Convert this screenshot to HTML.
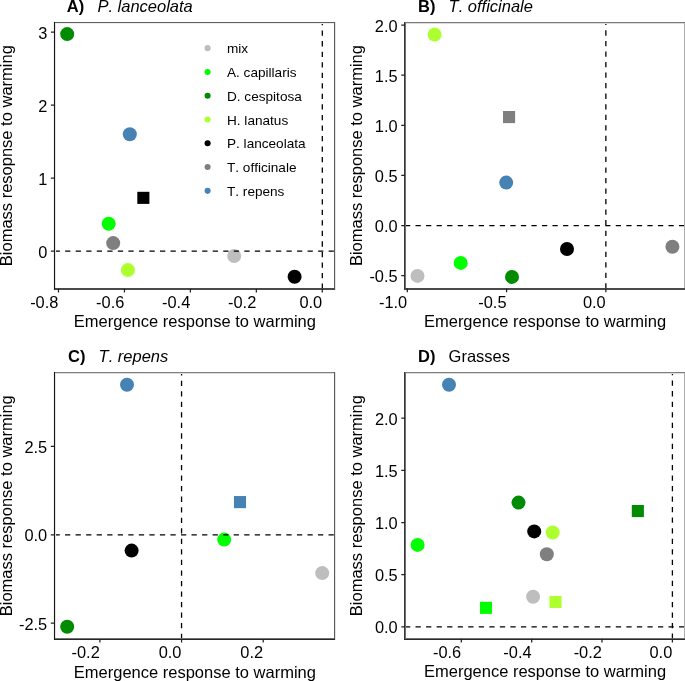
<!DOCTYPE html>
<html><head><meta charset="utf-8"><style>
html,body{margin:0;padding:0;background:#fff;}
svg{display:block;will-change:transform;}
text{font-family:"Liberation Sans",sans-serif;fill:#000;font-kerning:none;font-variant-ligatures:none;}
.tk{font-size:16.4px;}
.ax{font-size:16.5px;}
.tb{font-size:16.5px;font-weight:bold;}
.ti{font-size:16.5px;font-style:italic;}
.tn{font-size:16.5px;}
.lg{font-size:13.6px;}
</style></head><body>
<svg width="685" height="681" viewBox="0 0 685 681">
<rect width="685" height="681" fill="#fff"/>
<circle cx="67.2" cy="34.1" r="7.0" fill="#008B00"/>
<circle cx="129.8" cy="134.2" r="7.0" fill="#4682B4"/>
<rect x="137.3" y="191.8" width="12.1" height="12.1" fill="#000000"/>
<circle cx="108.7" cy="223.7" r="7.0" fill="#00FF00"/>
<circle cx="113.2" cy="243.1" r="7.0" fill="#7F7F7F"/>
<circle cx="127.9" cy="270.1" r="7.0" fill="#ADFF2F"/>
<circle cx="234.2" cy="256" r="7.0" fill="#BEBEBE"/>
<circle cx="294.6" cy="276.8" r="7.0" fill="#000000"/>
<path d="M54.6 251.05H334.6M322.3 288.8V22.6" stroke="#000000" stroke-width="1.3" stroke-dasharray="5.27 5.27" fill="none"/>
<g shape-rendering="crispEdges"><rect x="53" y="22" width="1" height="268" fill="#f2f2f2"/><rect x="54" y="23" width="281" height="1" fill="#ececec"/><rect x="335" y="22" width="1" height="268" fill="#e4e4e4"/><rect x="55" y="22" width="1" height="268" fill="#e2e2e2"/><rect x="54" y="22" width="281" height="1" fill="#606060"/><rect x="334" y="22" width="1" height="268" fill="#5a5a5a"/><rect x="54" y="288" width="281" height="1" fill="#4a4a4a"/><rect x="54" y="289" width="281" height="1" fill="#4a4a4a"/><rect x="54" y="22" width="1" height="268" fill="#151515"/></g>
<path d="M50.9 32.2H54.6M50.9 105.15H54.6M50.9 178.1H54.6M50.9 251.05H54.6M58.5 288.8V292.5M124.45 288.8V292.5M190.4 288.8V292.5M256.35 288.8V292.5M322.3 288.8V292.5" stroke="#222222" stroke-width="1.25" fill="none"/>
<text class="tk" x="47.3" y="38.7" text-anchor="end">3</text>
<text class="tk" x="47.3" y="111.65" text-anchor="end">2</text>
<text class="tk" x="47.3" y="184.6" text-anchor="end">1</text>
<text class="tk" x="47.3" y="257.55" text-anchor="end">0</text>
<text class="tk" x="58.4" y="307.9" text-anchor="end">-0.8</text>
<text class="tk" x="124.35" y="307.9" text-anchor="end">-0.6</text>
<text class="tk" x="190.3" y="307.9" text-anchor="end">-0.4</text>
<text class="tk" x="256.25" y="307.9" text-anchor="end">-0.2</text>
<text class="tk" x="322.2" y="307.9" text-anchor="end">0.0</text>
<text class="ax" x="194.9" y="327.4" text-anchor="middle">Emergence response to warming</text>
<text class="ax" transform="translate(11.6 155.7) rotate(-90)" x="0" y="0" text-anchor="middle">Biomass resopnse to warming</text>
<text class="tb" x="66.8" y="12">A)</text>
<text class="ti" x="97.4" y="12">P. lanceolata</text>
<circle cx="207.6" cy="48.15" r="3.05" fill="#BEBEBE"/>
<text class="lg" x="227" y="53.25">mix</text>
<circle cx="207.6" cy="71.93" r="3.05" fill="#00FF00"/>
<text class="lg" x="227" y="77.03">A. capillaris</text>
<circle cx="207.6" cy="95.71" r="3.05" fill="#008B00"/>
<text class="lg" x="227" y="100.81">D. cespitosa</text>
<circle cx="207.6" cy="119.49" r="3.05" fill="#ADFF2F"/>
<text class="lg" x="227" y="124.59">H. lanatus</text>
<circle cx="207.6" cy="143.27" r="3.05" fill="#000000"/>
<text class="lg" x="227" y="148.37">P. lanceolata</text>
<circle cx="207.6" cy="167.05" r="3.05" fill="#7F7F7F"/>
<text class="lg" x="227" y="172.15">T. officinale</text>
<circle cx="207.6" cy="190.83" r="3.05" fill="#4682B4"/>
<text class="lg" x="227" y="195.93">T. repens</text>
<circle cx="434.6" cy="34.6" r="7.0" fill="#ADFF2F"/>
<rect x="503" y="111" width="12.1" height="12.1" fill="#7F7F7F"/>
<circle cx="506.2" cy="182.6" r="7.0" fill="#4682B4"/>
<circle cx="460.7" cy="262.9" r="7.0" fill="#00FF00"/>
<circle cx="512" cy="276.9" r="7.0" fill="#008B00"/>
<circle cx="417.5" cy="275.9" r="7.0" fill="#BEBEBE"/>
<circle cx="567" cy="249" r="7.0" fill="#000000"/>
<circle cx="672.4" cy="246.7" r="7.0" fill="#7F7F7F"/>
<path d="M404.95 225.56H684.5M605.86 288.6V22.5" stroke="#000000" stroke-width="1.3" stroke-dasharray="5.27 5.27" fill="none"/>
<g shape-rendering="crispEdges"><rect x="404" y="23" width="281" height="1" fill="#dcdcdc"/><rect x="684" y="22" width="1" height="268" fill="#acacac"/><rect x="404" y="22" width="281" height="1" fill="#7a7a7a"/><rect x="405" y="22" width="1" height="268" fill="#6e6e6e"/><rect x="404" y="288" width="281" height="1" fill="#4a4a4a"/><rect x="404" y="289" width="281" height="1" fill="#4a4a4a"/><rect x="404" y="22" width="1" height="268" fill="#383838"/></g>
<path d="M401.25 25H404.95M401.25 75.14H404.95M401.25 125.28H404.95M401.25 175.42H404.95M401.25 225.56H404.95M401.25 275.7H404.95M407.3 288.6V292.3M506.6 288.6V292.3M605.86 288.6V292.3" stroke="#222222" stroke-width="1.25" fill="none"/>
<text class="tk" x="397.65" y="31.5" text-anchor="end">2.0</text>
<text class="tk" x="397.65" y="81.64" text-anchor="end">1.5</text>
<text class="tk" x="397.65" y="131.78" text-anchor="end">1.0</text>
<text class="tk" x="397.65" y="181.92" text-anchor="end">0.5</text>
<text class="tk" x="397.65" y="232.06" text-anchor="end">0.0</text>
<text class="tk" x="397.65" y="282.2" text-anchor="end">-0.5</text>
<text class="tk" x="407.2" y="307.7" text-anchor="end">-1.0</text>
<text class="tk" x="506.5" y="307.7" text-anchor="end">-0.5</text>
<text class="tk" x="605.76" y="307.7" text-anchor="end">0.0</text>
<text class="ax" x="545.02" y="327.2" text-anchor="middle">Emergence response to warming</text>
<text class="ax" transform="translate(361.9 155.55) rotate(-90)" x="0" y="0" text-anchor="middle">Biomass response to warming</text>
<text class="tb" x="418" y="12">B)</text>
<text class="ti" x="448.6" y="12">T. officinale</text>
<circle cx="127" cy="384.7" r="7.0" fill="#4682B4"/>
<rect x="233.95" y="496.05" width="12.1" height="12.1" fill="#4682B4"/>
<circle cx="224.2" cy="539.6" r="7.0" fill="#00FF00"/>
<circle cx="131.6" cy="550.6" r="7.0" fill="#000000"/>
<circle cx="322.2" cy="573.1" r="7.0" fill="#BEBEBE"/>
<circle cx="67.2" cy="626.8" r="7.0" fill="#008B00"/>
<path d="M54.5 534.8H334.6M181.56 638.9V372.6" stroke="#000000" stroke-width="1.3" stroke-dasharray="5.27 5.27" fill="none"/>
<g shape-rendering="crispEdges"><rect x="53" y="372" width="1" height="268" fill="#f2f2f2"/><rect x="335" y="372" width="1" height="268" fill="#e4e4e4"/><rect x="55" y="372" width="1" height="268" fill="#e2e2e2"/><rect x="54" y="373" width="281" height="1" fill="#dcdcdc"/><rect x="54" y="372" width="281" height="1" fill="#7f7f7f"/><rect x="54" y="638" width="281" height="1" fill="#707070"/><rect x="334" y="372" width="1" height="268" fill="#5a5a5a"/><rect x="54" y="639" width="281" height="1" fill="#262626"/><rect x="54" y="372" width="1" height="268" fill="#151515"/></g>
<path d="M50.8 446.45H54.5M50.8 534.8H54.5M50.8 623.2H54.5M99.9 638.9V642.6M181.56 638.9V642.6M263.2 638.9V642.6" stroke="#222222" stroke-width="1.25" fill="none"/>
<text class="tk" x="47.2" y="452.95" text-anchor="end">2.5</text>
<text class="tk" x="47.2" y="541.3" text-anchor="end">0.0</text>
<text class="tk" x="47.2" y="629.7" text-anchor="end">-2.5</text>
<text class="tk" x="99.8" y="658" text-anchor="end">-0.2</text>
<text class="tk" x="181.46" y="658" text-anchor="end">0.0</text>
<text class="tk" x="263.1" y="658" text-anchor="end">0.2</text>
<text class="ax" x="194.85" y="677.5" text-anchor="middle">Emergence response to warming</text>
<text class="ax" transform="translate(11.6 505.75) rotate(-90)" x="0" y="0" text-anchor="middle">Biomass response to warming</text>
<text class="tb" x="68" y="362">C)</text>
<text class="ti" x="98.6" y="362">T. repens</text>
<circle cx="449" cy="384.7" r="7.0" fill="#4682B4"/>
<circle cx="518.5" cy="502.6" r="7.0" fill="#008B00"/>
<circle cx="534.2" cy="531.4" r="7.0" fill="#000000"/>
<circle cx="552.7" cy="532.5" r="7.0" fill="#ADFF2F"/>
<circle cx="546.8" cy="554.3" r="7.0" fill="#7F7F7F"/>
<circle cx="533.1" cy="596.8" r="7.0" fill="#BEBEBE"/>
<rect x="549.45" y="595.95" width="12.1" height="12.1" fill="#ADFF2F"/>
<rect x="479.95" y="601.8" width="12.1" height="12.1" fill="#00FF00"/>
<circle cx="417.6" cy="544.9" r="7.0" fill="#00FF00"/>
<rect x="631.8" y="505" width="12.1" height="12.1" fill="#008B00"/>
<path d="M405 626.9H684.5M672.4 638.8V372.5" stroke="#000000" stroke-width="1.3" stroke-dasharray="5.27 5.27" fill="none"/>
<g shape-rendering="crispEdges"><rect x="404" y="373" width="281" height="1" fill="#dcdcdc"/><rect x="684" y="372" width="1" height="268" fill="#acacac"/><rect x="404" y="372" width="281" height="1" fill="#7f7f7f"/><rect x="404" y="638" width="281" height="1" fill="#707070"/><rect x="405" y="372" width="1" height="268" fill="#6e6e6e"/><rect x="404" y="372" width="1" height="268" fill="#383838"/><rect x="404" y="639" width="281" height="1" fill="#2a2a2a"/></g>
<path d="M401.3 418.1H405M401.3 470.3H405M401.3 522.5H405M401.3 574.7H405M401.3 626.9H405M461.3 638.8V642.5M531.7 638.8V642.5M602 638.8V642.5M672.4 638.8V642.5" stroke="#222222" stroke-width="1.25" fill="none"/>
<text class="tk" x="397.7" y="424.6" text-anchor="end">2.0</text>
<text class="tk" x="397.7" y="476.8" text-anchor="end">1.5</text>
<text class="tk" x="397.7" y="529" text-anchor="end">1.0</text>
<text class="tk" x="397.7" y="581.2" text-anchor="end">0.5</text>
<text class="tk" x="397.7" y="633.4" text-anchor="end">0.0</text>
<text class="tk" x="461.2" y="657.9" text-anchor="end">-0.6</text>
<text class="tk" x="531.6" y="657.9" text-anchor="end">-0.4</text>
<text class="tk" x="601.9" y="657.9" text-anchor="end">-0.2</text>
<text class="tk" x="672.3" y="657.9" text-anchor="end">0.0</text>
<text class="ax" x="545.05" y="677.4" text-anchor="middle">Emergence response to warming</text>
<text class="ax" transform="translate(361.9 505.65) rotate(-90)" x="0" y="0" text-anchor="middle">Biomass response to warming</text>
<text class="tb" x="418" y="362">D)</text>
<text class="tn" x="448.6" y="362">Grasses</text>
</svg>
</body></html>
